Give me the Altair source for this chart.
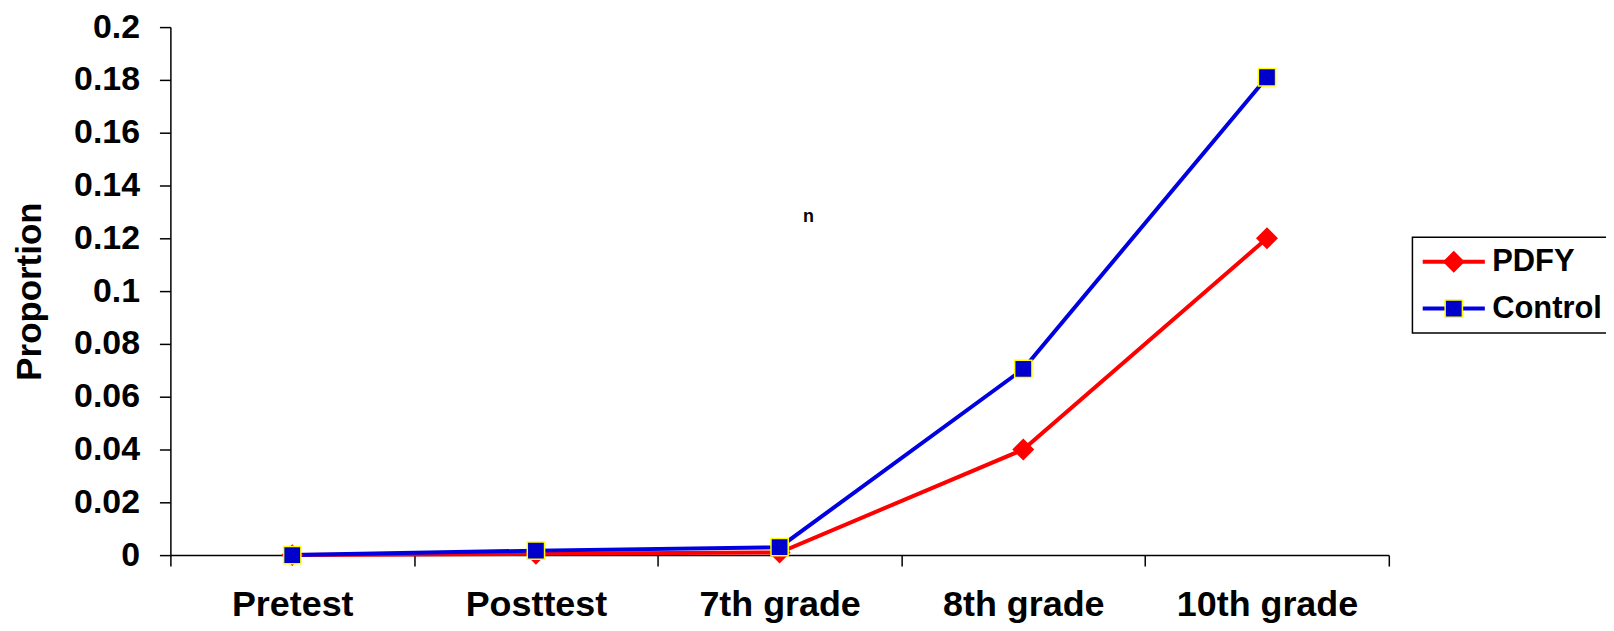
import altair as alt
import pandas as pd

stages = ["Pretest", "Posttest", "7th grade", "8th grade", "10th grade"]
series_names = ["PDFY", "Control"]
line_keys = ["PDFY line", "Control line"]
pdfy = [0.0, 0.0005, 0.001, 0.04, 0.12]
control = [0.0, 0.0017, 0.003, 0.0705, 0.181]
y_ticks = [0, 0.02, 0.04, 0.06, 0.08, 0.1, 0.12, 0.14, 0.16, 0.18, 0.2]
note_text = ["n"]
note_stage = ["7th grade"]
note_value = [0.128]

rows = []
for name, key, vals in zip(series_names, line_keys, [pdfy, control]):
    for s, v in zip(stages, vals):
        rows.append({"stage": s, "series": name, "line_key": key, "value": v})
df = pd.DataFrame(rows)
note_df = pd.DataFrame({"stage": note_stage, "value": note_value, "label": note_text})

FONT = "Liberation Sans"
RED = "#FF0000"
BLUE_LINE = "#0000E0"
BLUE_FILL = "#0000CC"
YELLOW = "#FFFF00"
DIAMOND = "M0,-1.15L1.15,0L0,1.15L-1.15,0Z"

x_enc = alt.X(
    "stage:N",
    sort=stages,
    scale=alt.Scale(type="band", domain=stages, paddingInner=0, paddingOuter=0),
    axis=alt.Axis(
        title=None,
        labelAngle=0,
        labelLimit=400,
        tickBand="extent",
        tickSize=11,
        labelPadding=50,
        labelBaseline="alphabetic",
        labelFontSize=36,
        labelFont=FONT,
        labelFontWeight="bold",
        labelColor="black",
        domainColor="black",
        domainWidth=1.5,
        tickColor="black",
        tickWidth=1.5,
        grid=False,
    ),
)
y_enc = alt.Y(
    "value:Q",
    scale=alt.Scale(domain=[0, 0.2], nice=False, zero=True),
    axis=alt.Axis(
        title="Proportion",
        values=y_ticks,
        format=".2~f",
        tickSize=11,
        labelPadding=20,
        labelFontSize=34,
        labelFont=FONT,
        labelFontWeight="bold",
        labelColor="black",
        domainColor="black",
        domainWidth=1.5,
        tickColor="black",
        tickWidth=1.5,
        grid=False,
        titleFontSize=35,
        titleFont=FONT,
        titleFontWeight="bold",
        titleColor="black",
        titleAngle=270,
        titleAlign="center",
        titleBaseline="middle",
        titleX=-141,
        titleY=265,
    ),
)

common_legend = dict(
    orient="none",
    legendX=1246.7,
    legendY=211,
    direction="vertical",
    title=None,
    labelFontSize=31,
    labelFont=FONT,
    labelFontWeight="bold",
    labelColor="black",
    labelLimit=300,
    padding=9,
    rowPadding=15,
    symbolOffset=17,
    labelOffset=23,
    symbolSize=300,
)

legend_line = alt.Legend(
    **common_legend,
    symbolType="M-3.6,0H3.6",
    symbolStrokeWidth=4,
    labelExpr="''",
    zindex=0,
)
legend_marker = alt.Legend(
    **common_legend,
    symbolStrokeWidth=1.5,
    strokeColor="black",
    zindex=1,
)

lines = alt.Chart(df).mark_line(strokeWidth=4).encode(
    x=x_enc,
    y=y_enc,
    color=alt.Color(
        "line_key:N",
        scale=alt.Scale(domain=line_keys, range=[RED, BLUE_LINE]),
        legend=legend_line,
    ),
)

points = alt.Chart(df).mark_point(filled=True, size=300, strokeWidth=1.5, opacity=1).encode(
    x=x_enc,
    y=y_enc,
    shape=alt.Shape(
        "series:N",
        scale=alt.Scale(domain=series_names, range=[DIAMOND, "square"]),
        legend=legend_marker,
    ),
    fill=alt.Fill(
        "series:N",
        scale=alt.Scale(domain=series_names, range=[RED, BLUE_FILL]),
        legend=legend_marker,
    ),
    stroke=alt.Stroke(
        "series:N",
        scale=alt.Scale(domain=series_names, range=[RED, YELLOW]),
        legend=legend_marker,
    ),
)

note = alt.Chart(note_df).mark_text(
    font=FONT, fontSize=18, fontWeight="bold", color="black", dx=29
).encode(x=x_enc, y=y_enc, text="label:N")

chart = (
    alt.layer(lines, points, note)
    .properties(
        width=1223,
        height=530,
        autosize=alt.AutoSizeParams(type="none"),
        padding={"left": 163, "top": 18, "right": 218, "bottom": 72},
        background="white",
    )
    .configure_view(stroke="transparent")
    .configure_legend(strokeWidth=1.5)
)

chart.save("out.html", embed_options={"renderer": "svg", "actions": False})
